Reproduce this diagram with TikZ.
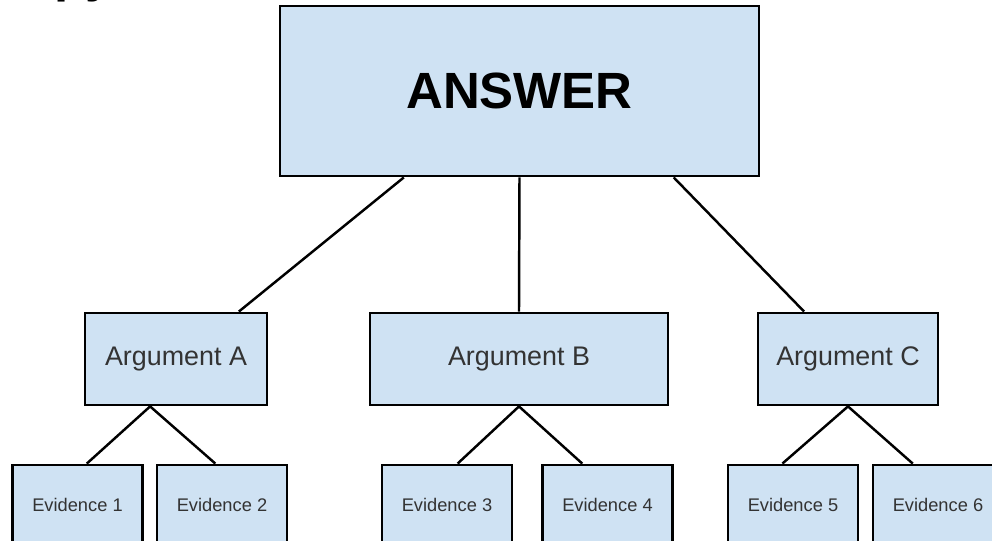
\documentclass[tikz,border=0pt]{standalone}
\usepackage{fontspec}
\setmainfont{Liberation Sans}
\usetikzlibrary{calc}

\definecolor{boxblue}{HTML}{CFE2F3}
\definecolor{textgray}{HTML}{333333}

\begin{document}
\begin{tikzpicture}[x=0.02cm, y=-0.02cm,
		box/.style={draw=black, fill=boxblue, line width=1.6pt, inner sep=0pt},
		link/.style={line width=1.4pt, black}]
		
		% --- MARCO (992 x 541) ---
		\useasboundingbox (0,0) rectangle (992,541);
		
		% fragmento de titulo cortado arriba
		\node[anchor=base west, inner sep=0pt, font=\fontsize{29}{30}\selectfont\bfseries] (titlecut) at (54,-9) {py};
		
		% --- RESPUESTA ---
		\node[box, minimum width=479*0.02cm, minimum height=170*0.02cm,
			font=\fontsize{29}{30}\selectfont\bfseries] (answer) at (519.5,91) {ANSWER};
		
		% --- ARGUMENTOS ---
		\node[box, minimum width=182*0.02cm, minimum height=92*0.02cm, text=textgray, font=\fontsize{15.3}{17}\selectfont] (argA) at (176,359) {Argument A};
		\node[box, minimum width=298*0.02cm, minimum height=92*0.02cm, text=textgray, font=\fontsize{15.3}{17}\selectfont] (argB) at (519,359) {Argument B};
		\node[box, minimum width=180*0.02cm, minimum height=92*0.02cm, text=textgray, font=\fontsize{15.3}{17}\selectfont] (argC) at (848,359) {Argument C};
		
		% --- EVIDENCIAS (cortadas por el borde inferior) ---
		\foreach \n/\x in {1/77.5, 2/222, 3/447, 4/607.5, 5/793, 6/938}
			\node[box, minimum width=130*0.02cm, minimum height=80*0.02cm, text=textgray, font=\fontsize{10.4}{12}\selectfont] (ev\n) at (\x,505) {Evidence \n};
		
		% --- CONECTORES ---
		\draw[link] ($(answer.south west)!0.26!(answer.south east)$) -- ($(argA.north west)!0.84!(argA.north east)$);
		\draw[link] (answer.south) -- (argB.north);
		\draw[link] ($(answer.south west)!0.82!(answer.south east)$) -- ($(argC.north west)!0.26!(argC.north east)$);
		
		\coordinate (jointA) at ($(argA.south west)!0.36!(argA.south east)$);
		\draw[link] ($(ev1.north west)!0.57!(ev1.north east)$) -- (jointA) -- ($(ev2.north west)!0.45!(ev2.north east)$);
		\draw[link] ($(ev3.north west)!0.58!(ev3.north east)$) -- (argB.south) -- ($(ev4.north west)!0.31!(ev4.north east)$);
		\draw[link] ($(ev5.north west)!0.42!(ev5.north east)$) -- (argC.south) -- ($(ev6.north west)!0.31!(ev6.north east)$);
		
	\end{tikzpicture}
\end{document}
